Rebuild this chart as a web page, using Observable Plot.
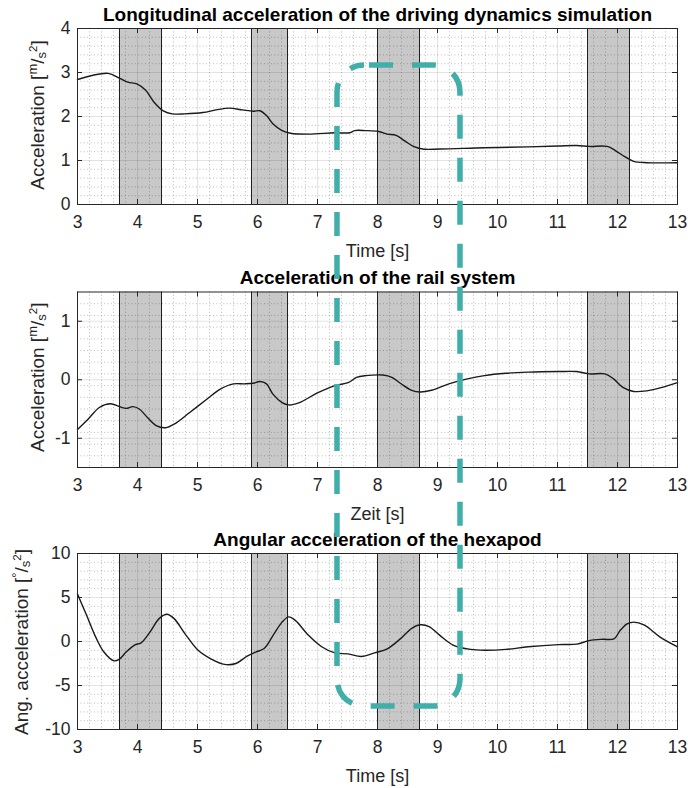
<!DOCTYPE html>
<html><head><meta charset="utf-8">
<script src="https://cdn.jsdelivr.net/npm/d3@7"></script>
<script src="https://cdn.jsdelivr.net/npm/@observablehq/plot@0.6"></script>
<style>
body{margin:0;background:#fff;}
#chart{position:relative;width:688px;height:788px;font-family:"Liberation Sans",Arial,sans-serif;overflow:hidden;}
#chart svg{position:absolute;left:0;}
</style></head><body><div id="chart"></div>
<script>
// ---- data ----
const timeTicks = [3,4,5,6,7,8,9,10,11,12,13];
const bandStart = [3.7, 5.9, 8.0, 11.5];
const bandEnd   = [4.4, 6.5, 8.7, 12.2];

const longT = [3.0,3.51,3.7,3.84,3.99,4.14,4.28,4.43,4.58,4.79,5.09,5.31,5.53,5.75,5.93,6.04,6.15,6.26,6.41,6.55,6.85,7.29,7.54,7.62,7.80,8.02,8.16,8.31,8.46,8.60,8.75,9.04,9.78,10.51,11.02,11.32,11.53,11.83,11.97,12.12,12.27,12.49,13.0];
const longV = [2.84,2.98,2.87,2.78,2.74,2.59,2.32,2.13,2.06,2.06,2.09,2.15,2.19,2.15,2.12,2.13,2.02,1.83,1.68,1.62,1.60,1.63,1.63,1.68,1.68,1.66,1.60,1.57,1.44,1.32,1.26,1.26,1.29,1.31,1.33,1.34,1.32,1.32,1.22,1.09,0.98,0.95,0.95];

const railT = [3.0,3.18,3.37,3.55,3.70,3.81,3.92,4.03,4.17,4.32,4.47,4.61,4.87,5.16,5.38,5.60,5.78,5.93,6.04,6.15,6.26,6.41,6.52,6.70,6.99,7.29,7.51,7.65,7.80,8.09,8.24,8.38,8.57,8.71,8.90,9.19,9.48,9.78,10.14,10.51,11.02,11.32,11.53,11.79,11.94,12.09,12.27,12.49,12.71,13.0];
const railV = [-0.85,-0.67,-0.47,-0.41,-0.46,-0.49,-0.46,-0.50,-0.65,-0.79,-0.82,-0.76,-0.56,-0.33,-0.16,-0.07,-0.07,-0.06,-0.03,-0.07,-0.25,-0.39,-0.43,-0.39,-0.23,-0.10,-0.05,0.04,0.07,0.08,0.04,-0.06,-0.18,-0.21,-0.18,-0.07,0.01,0.07,0.11,0.13,0.14,0.14,0.10,0.10,0.01,-0.13,-0.20,-0.19,-0.14,-0.05];

const angT = [3.0,3.15,3.29,3.44,3.61,3.70,3.81,3.95,4.06,4.21,4.36,4.49,4.61,4.79,5.01,5.23,5.45,5.64,5.82,5.97,6.11,6.26,6.41,6.52,6.63,6.85,7.07,7.29,7.51,7.73,7.95,8.17,8.38,8.57,8.71,8.86,9.04,9.26,9.55,9.78,10.14,10.51,11.02,11.32,11.53,11.75,11.94,12.05,12.16,12.27,12.45,12.71,13.0];
const angV = [5.4,3.0,0.7,-1.2,-2.2,-2.0,-1.2,-0.4,-0.15,1.1,2.6,3.1,2.6,0.9,-1.0,-2.0,-2.6,-2.5,-1.7,-1.2,-0.8,0.7,2.2,2.8,2.4,0.7,-0.6,-1.3,-1.4,-1.7,-1.3,-0.8,0.3,1.5,1.9,1.7,0.7,-0.4,-0.9,-1.0,-0.9,-0.6,-0.35,-0.3,0.1,0.25,0.3,1.3,2.0,2.2,1.85,0.5,-0.6];

const panelTitles = ["Longitudinal acceleration of the driving dynamics simulation","Acceleration of the rail system","Angular acceleration of the hexapod"];
const xLabels = ["Time [s]","Zeit [s]","Time [s]"];
const yLabelText = ["Acceleration [","Acceleration [","Ang. acceleration ["];
const yUnitTop = ["m","m","°"];
const yDomains = [[0,4],[-1.5,1.5],[-10,10]];
const yTicks = [[0,1,2,3,4],[-1,0,1],[-10,-5,0,5,10]];
const yMinorStep = [0.2,0.2,1];

// highlight annotation (time range, top value in panel 1, bottom value in panel 3)
const highlightT = [7.333, 9.383];
const highlightTop = 3.16;
const highlightBottom = -7.4;

// ---- layout ----
const W = 688;
const layout = [
  {top:0,   height:262, mt:28,   mb:58},
  {top:262, height:262, mt:29.5, mb:57},
  {top:524, height:264, mt:29,   mb:59}
];
const ML = 77, MR = 11;
const tickColor = "#262626";
const series = [[longT,longV],[railT,railV],[angT,angV]];
const yLabelShift = [-1,-2,1];

const root = document.getElementById("chart");
const charts = [];

function minorVals(d0, d1, step, majors) {
  const n = Math.round((d1 - d0) / step);
  const out = [];
  for (let k = 0; k <= n; k++) {
    const v = +(d0 + k * step).toFixed(6);
    if (!majors.some(m => Math.abs(m - v) < 1e-6)) out.push(v);
  }
  return out;
}
const fmt = d => String(d);

for (let i = 0; i < 3; i++) {
  const L = layout[i];
  const plotH = L.height - L.mt - L.mb;
  const plotW = W - ML - MR;
  const [t, v] = series[i];
  const data = t.map((d, k) => ({t: d, v: v[k]}));
  const bands = bandStart.map((s, k) => ({x1: s, x2: bandEnd[k]}));
  const minorX = minorVals(3, 13, 0.2, timeTicks);
  const minorY = minorVals(yDomains[i][0], yDomains[i][1], yMinorStep[i], yTicks[i].concat(yDomains[i]));
  const chart = Plot.plot({
    width: W, height: L.height,
    marginLeft: ML, marginRight: MR, marginTop: L.mt, marginBottom: L.mb,
    style: {fontFamily: '"Liberation Sans", Arial, sans-serif', fontSize: "16px", color: tickColor, background: "transparent", overflow: "visible"},
    x: {domain: [3, 13], axis: null},
    y: {domain: yDomains[i], axis: null},
    marks: [
      Plot.rect(bands, {x1: "x1", x2: "x2", fill: "#c8c8c8"}),
      Plot.ruleX(minorX, {stroke: "#262626", strokeOpacity: 0.38, strokeDasharray: "1 2.4", strokeWidth: 0.8}),
      Plot.ruleY(minorY, {stroke: "#262626", strokeOpacity: 0.38, strokeDasharray: "1 2.4", strokeWidth: 0.8}),
      Plot.ruleX(timeTicks, {stroke: "#262626", strokeOpacity: 0.13, strokeWidth: 1}),
      Plot.ruleY(yTicks[i], {stroke: "#262626", strokeOpacity: 0.13, strokeWidth: 1}),
      Plot.ruleX(bandStart.concat(bandEnd), {stroke: "#1e1e1e", strokeWidth: 1}),
      Plot.line(data, {x: "t", y: "v", curve: "catmull-rom", stroke: "#1a1a1a", strokeWidth: 1.4}),
      Plot.frame({stroke: "#262626", strokeWidth: 1}),
      Plot.tickX(timeTicks, {x: d => d, insetTop: plotH - 5, stroke: tickColor}),
      Plot.tickX(timeTicks, {x: d => d, insetBottom: plotH - 5, stroke: tickColor}),
      Plot.tickY(yTicks[i], {y: d => d, insetRight: plotW - 5, stroke: tickColor}),
      Plot.tickY(yTicks[i], {y: d => d, insetLeft: plotW - 5, stroke: tickColor}),
      Plot.axisX(timeTicks, {anchor: "bottom", tickSize: 0, tickPadding: 11, label: null, tickFormat: fmt, fontSize: 17.5, fill: tickColor}),
      Plot.axisY(yTicks[i], {anchor: "left", tickSize: 0, tickPadding: 7, label: null, tickFormat: fmt, fontSize: 17.5, fill: tickColor}),
      Plot.text([panelTitles[i]], {frameAnchor: "top", dy: -14, lineAnchor: "middle", fontWeight: "bold", fontSize: 19, fill: "#000"}),
      Plot.text([xLabels[i]], {frameAnchor: "bottom", dy: 47, lineAnchor: "middle", fontSize: 18, fill: tickColor})
    ]
  });
  chart.style.top = L.top + "px";
  root.appendChild(chart);
  charts.push(chart);

  // y label with superscript / subscript units
  const svg = d3.select(chart);
  const cy = L.mt + plotH / 2 + yLabelShift[i];
  const bx = i === 2 ? 28 : 44;
  const txt = svg.append("text")
    .attr("transform", `translate(${bx},${cy}) rotate(-90)`)
    .attr("text-anchor", "middle")
    .attr("font-size", 19)
    .attr("fill", tickColor);
  txt.append("tspan").text(yLabelText[i]);
  txt.append("tspan").attr("dy", -7).attr("font-size", 13).text(yUnitTop[i]);
  txt.append("tspan").attr("dy", 7).text("/");
  txt.append("tspan").attr("dy", 2).attr("font-size", 13).text("s");
  txt.append("tspan").attr("dy", -9).attr("font-size", 11.5).text("2");
  txt.append("tspan").attr("dy", 7).text("]");
}

// ---- overlay highlight (rounded dashed box across panels) ----
const xs = charts[0].scale("x");
const y1s = charts[0].scale("y");
const y3s = charts[2].scale("y");
const hx0 = xs.apply(highlightT[0]);
const hx1 = xs.apply(highlightT[1]);
const hy0 = layout[0].top + y1s.apply(highlightTop);
const hy1 = layout[2].top + y3s.apply(highlightBottom);
const ov = d3.select(root).append("svg")
  .attr("width", W).attr("height", 788).style("top", "0px").style("pointer-events", "none");
ov.append("rect")
  .attr("x", hx0).attr("y", hy0)
  .attr("width", hx1 - hx0).attr("height", hy1 - hy0)
  .attr("rx", 27).attr("ry", 27)
  .attr("fill", "none")
  .attr("stroke", "#40aea9")
  .attr("stroke-width", 5.5)
  .attr("stroke-dasharray", "24 19")
  .attr("stroke-dashoffset", -5);
</script>
</body></html>
